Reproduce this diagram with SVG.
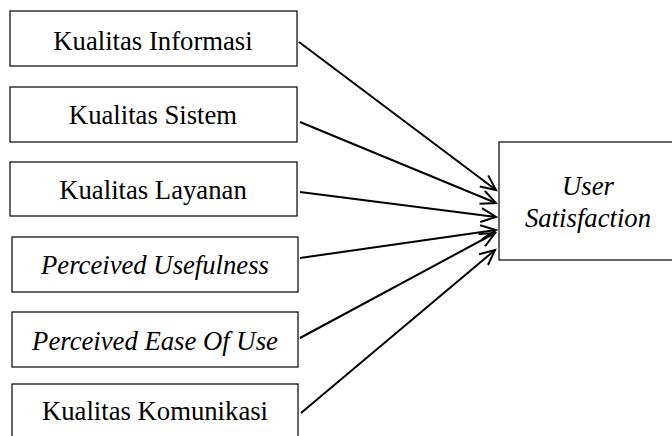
<svg xmlns="http://www.w3.org/2000/svg" width="672" height="436" viewBox="0 0 672 436">
<style>
.box{fill:#fff;stroke:#000;stroke-width:1.2}
.t{font-family:"Liberation Serif","Times New Roman",serif;font-size:26.7px;fill:#000;text-anchor:middle}
.i{font-style:italic}
.c{stroke:#000;stroke-width:2;fill:none;marker-end:url(#ah)}
</style>
<defs>
<marker id="ah" markerUnits="userSpaceOnUse" markerWidth="20" markerHeight="20" viewBox="-16 -10 20 20" refX="0" refY="0" orient="auto">
<path d="M-15,-7 L0,0 L-15,7" fill="none" stroke="#000" stroke-width="2"/>
</marker>
</defs>
<g id="n1"><rect class="box" x="10" y="11" width="287" height="55"/><text class="t" x="153" y="50">Kualitas Informasi</text></g>
<g id="n2"><rect class="box" x="10" y="87" width="287" height="55"/><text class="t" x="153" y="124">Kualitas Sistem</text></g>
<g id="n3"><rect class="box" x="10" y="162" width="287" height="54"/><text class="t" x="153" y="199">Kualitas Layanan</text></g>
<g id="n4"><rect class="box" x="12" y="237" width="286" height="55"/><text class="t i" x="155" y="274">Perceived Usefulness</text></g>
<g id="n5"><rect class="box" x="12" y="312" width="286" height="55"/><text class="t i" x="155" y="350">Perceived Ease Of Use</text></g>
<g id="n6"><rect class="box" x="12" y="384" width="286" height="55"/><text class="t" x="155" y="420">Kualitas Komunikasi</text></g>
<g id="target"><rect class="box" x="499" y="142" width="178" height="118"/><text class="t i" x="588" y="195">User</text><text class="t i" x="588" y="227">Satisfaction</text></g>
<g id="connectors">
<line class="c" x1="299" y1="42" x2="496" y2="190"/>
<line class="c" x1="300" y1="122" x2="496" y2="203"/>
<line class="c" x1="300" y1="192" x2="496" y2="217"/>
<line class="c" x1="300" y1="258" x2="496" y2="230"/>
<line class="c" x1="300" y1="338" x2="495" y2="233"/>
<line class="c" x1="301" y1="413" x2="495" y2="250"/>
</g>
</svg>
